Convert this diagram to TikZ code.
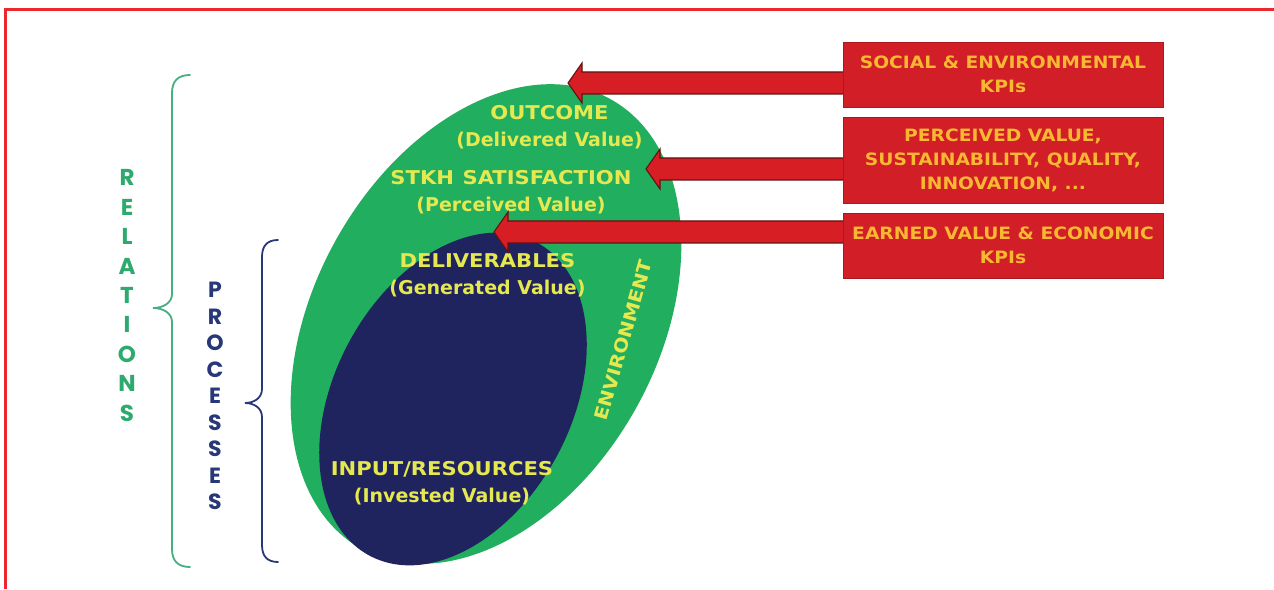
\documentclass[tikz,border=0pt]{standalone}
\usepackage{fontspec}
\usetikzlibrary{calc}
\newfontfamily\capf[FakeStretch=1.11]{DejaVu Sans}
\newfontfamily\lowf[FakeStretch=1.0]{DejaVu Sans}
\newfontfamily\kpif[FakeStretch=1.1]{DejaVu Sans}
\newfontfamily\poppf{Poppins}
\definecolor{ellgreen}{RGB}{33,174,95}
\definecolor{ellnavy}{RGB}{31,36,94}
\definecolor{elltext}{RGB}{230,232,80}
\definecolor{boxred}{RGB}{210,30,38}
\definecolor{boxedge}{RGB}{170,25,30}
\definecolor{kpitext}{RGB}{248,184,50}
\definecolor{arrred}{RGB}{214,30,36}
\definecolor{arrdark}{RGB}{100,18,18}
\definecolor{relgreen}{RGB}{46,170,110}
\definecolor{bracegreen}{RGB}{70,175,130}
\definecolor{procnavy}{RGB}{40,55,120}
\definecolor{borderred}{RGB}{235,40,45}
\newcommand{\kpiarrow}[2]{%
  \filldraw[kpiarrowstyle] ($(#1)+(3,11)$) -- ($(#2)+(14,11)$) -- ($(#2)+(14,20)$) -- (#2)
    -- ($(#2)+(14,-20)$) -- ($(#2)+(14,-11)$) -- ($(#1)+(3,-11)$) -- cycle;}
\begin{document}
\begin{tikzpicture}[x=1pt,y=1pt,
  elltxt/.style={text=elltext, align=center, inner sep=0pt,
    font={\bfseries\fontsize{19}{27}\selectfont}},
  kpibox/.style={fill=boxred, draw=boxedge, line width=0.8pt, minimum width=320pt,
    inner sep=0pt, text=kpitext, align=center,
    font={\kpif\bfseries\fontsize{17}{24}\selectfont}},
  kpiarrowstyle/.style={fill=arrred, draw=arrdark, line width=1.1pt, line join=miter},
  vletters/.style={align=center, inner sep=0pt},
  bracestyle/.style={line width=1.8pt, line cap=round}
]
\useasboundingbox (0,0) rectangle (1274,589);
\fill[white] (0,0) rectangle (1274,589);
% border
\draw[borderred, line width=3pt] (5,0) -- (5,579) -- (1274,579);

% ellipses
\fill[ellgreen, rotate around={-29:(486,265)}] (486,265) ellipse [x radius=172, y radius=257];
\fill[ellnavy, rotate around={-28:(453,190)}] (453,190) ellipse [x radius=118.5, y radius=177.5];

% ellipse texts
\node[elltxt] (outcome) at (549.5,461.5) {{\capf OUTCOME}\\{\lowf (Delivered Value)}};
\node[elltxt] (stkh) at (511,396.5) {{\capf STKH\hspace{0.45em}SATISFACTION}\\{\lowf (Perceived Value)}};
\node[elltxt] (deliv) at (487.5,313.5) {{\capf DELIVERABLES}\\{\lowf (Generated Value)}};
\node[elltxt] (input) at (442,105.5) {{\capf INPUT/RESOURCES}\\{\lowf (Invested Value)}};
\node[elltxt, rotate=74, font={\capf\bfseries\fontsize{18}{24}\selectfont}] (env) at (623.5,249) {ENVIRONMENT};

% arrows
\coordinate (t1) at (568,506);
\coordinate (t2) at (646,420);
\coordinate (t3) at (494,357);
\coordinate (s1) at (843,506);
\coordinate (s2) at (843,420);
\coordinate (s3) at (843,357);
\kpiarrow{s1}{t1}
\kpiarrow{s2}{t2}
\kpiarrow{s3}{t3}

% KPI boxes
\node[kpibox, minimum height=65pt] (b1) at (1003,514.5) {SOCIAL \& ENVIRONMENTAL\\KPIs};
\node[kpibox, minimum height=86pt] (b2) at (1003,429) {PERCEIVED VALUE,\\SUSTAINABILITY, QUALITY,\\INNOVATION, ...};
\node[kpibox, minimum height=65pt] (b3) at (1003,343.5) {EARNED VALUE \& ECONOMIC\\KPIs};

% braces
\draw[bracestyle, bracegreen] (190,514) .. controls (178,514) and (172,508) .. (172,496)
  -- (172,295) .. controls (172,286) and (163,281) .. (153,281)
  .. controls (163,281) and (172,276) .. (172,267)
  -- (172,40) .. controls (172,28) and (178,22) .. (190,22);
\draw[bracestyle, procnavy] (278,349) .. controls (267,349) and (262,343) .. (262,332)
  -- (262,200) .. controls (262,191) and (254,186) .. (245,186)
  .. controls (254,186) and (262,181) .. (262,172)
  -- (262,44) .. controls (262,33) and (267,27) .. (278,27);

% vertical words
\node[vletters, text=relgreen, font={\poppf\bfseries\fontsize{23}{29.4}\selectfont}] (rel) at (127,293.5)
  {R\\E\\L\\A\\T\\I\\O\\N\\S};
\node[vletters, text=procnavy, font={\poppf\bfseries\fontsize{22}{26.5}\selectfont}] (proc) at (215,193)
  {P\\R\\O\\C\\E\\S\\S\\E\\S};
\end{tikzpicture}
\end{document}
